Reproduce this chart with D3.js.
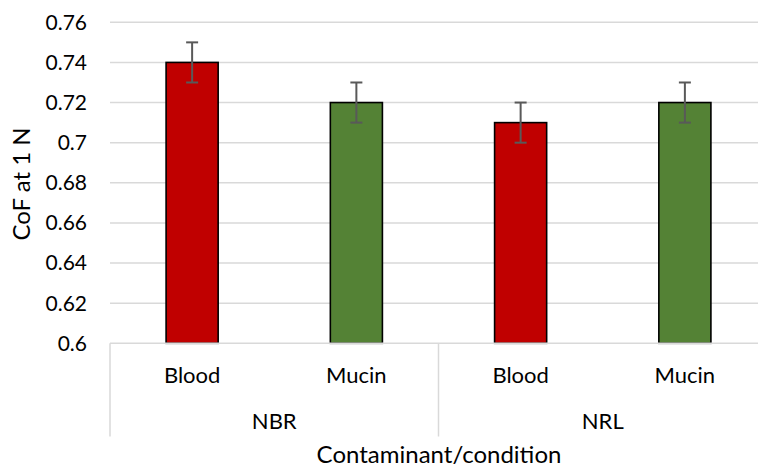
<!DOCTYPE html>
<html><head><meta charset="utf-8">
<script src="https://cdn.jsdelivr.net/npm/d3@7"></script>
<style>body{margin:0;background:#fff;} text{font-family:Lato, "Open Sans", sans-serif;fill:#000;}</style>
</head><body><svg id="c" width="758" height="469"></svg>
<script>
const groups = ["NBR", "NRL"];
const conditions = ["Blood", "Mucin"];
const values = [0.74, 0.72, 0.71, 0.72];
const errors = [0.01, 0.01, 0.01, 0.01];
const colors = ["#C00000", "#548235"];
const yTicks = [0.6, 0.62, 0.64, 0.66, 0.68, 0.7, 0.72, 0.74, 0.76];

const items = [];
groups.forEach((g, gi) => conditions.forEach((c, ci) => items.push({g, c, ci, i: gi * conditions.length + ci})));
items.forEach(d => { d.v = values[d.i]; d.e = errors[d.i]; });

const svg = d3.select("#c");
const L = 110, R = 767, T = 22.3, B = 343.3;
const x = d3.scaleBand().domain(items.map(d => d.i)).range([L, R]).padding(0);
const xg = d3.scaleBand().domain(groups).range([L, R]).padding(0);
const y = d3.scaleLinear().domain([0.6, 0.76]).range([B, T]);

// gridlines
svg.append("g").selectAll("line").data(yTicks.slice(1)).join("line")
  .attr("x1", L).attr("x2", R).attr("y1", d => y(d)).attr("y2", d => y(d))
  .attr("stroke", "#D9D9D9").attr("stroke-width", 1.5);

// y tick labels
svg.append("g").selectAll("text").data(yTicks).join("text")
  .attr("x", 87).attr("y", d => y(d)).attr("dy", "0.35em").attr("text-anchor", "end")
  .style("font-size", "21px").text(d => d3.format("")(+d.toFixed(2)));

// bars
const bw = x.bandwidth() * 0.317;
svg.append("g").selectAll("rect").data(items).join("rect")
  .attr("x", d => x(d.i) + x.bandwidth() / 2 - bw / 2).attr("width", bw)
  .attr("y", d => y(d.v)).attr("height", d => y(0.6) - y(d.v))
  .attr("fill", d => colors[d.ci]).attr("stroke", "#000").attr("stroke-width", 1.6);

// axis line
svg.append("line").attr("x1", L).attr("x2", R).attr("y1", B).attr("y2", B)
  .attr("stroke", "#D9D9D9").attr("stroke-width", 1.5);

// error bars
const eg = svg.append("g").attr("stroke", "#595959").attr("stroke-width", 2);
items.forEach(d => {
  const cx = x(d.i) + x.bandwidth() / 2;
  eg.append("line").attr("x1", cx).attr("x2", cx).attr("y1", y(d.v + d.e)).attr("y2", y(d.v - d.e));
  [d.v + d.e, d.v - d.e].forEach(v => eg.append("line").attr("x1", cx - 6).attr("x2", cx + 6).attr("y1", y(v)).attr("y2", y(v)));
});

// category axis separators
const sep = [...groups.map(g => xg(g)), R];
svg.append("g").selectAll("line").data(sep).join("line")
  .attr("x1", d => d).attr("x2", d => d).attr("y1", B).attr("y2", 436.5)
  .attr("stroke", "#D9D9D9").attr("stroke-width", 1.5);

// category labels
svg.append("g").selectAll("text").data(items).join("text")
  .attr("x", d => x(d.i) + x.bandwidth() / 2).attr("y", 375).attr("dy", "0.35em")
  .attr("text-anchor", "middle").style("font-size", "22px").text(d => d.c);
svg.append("g").selectAll("text").data(groups).join("text")
  .attr("x", d => xg(d) + xg.bandwidth() / 2).attr("y", 421.5).attr("dy", "0.35em")
  .attr("text-anchor", "middle").style("font-size", "22px").text(d => d);

// axis titles
svg.append("text").attr("x", 439).attr("y", 454.5).attr("dy", "0.35em").attr("text-anchor", "middle")
  .style("font-size", "24px").text("Contaminant/condition");
svg.append("text").attr("transform", "translate(22,184) rotate(-90)").attr("dy", "0.35em").attr("text-anchor", "middle")
  .style("font-size", "24px").text("CoF at 1 N");
</script></body></html>
